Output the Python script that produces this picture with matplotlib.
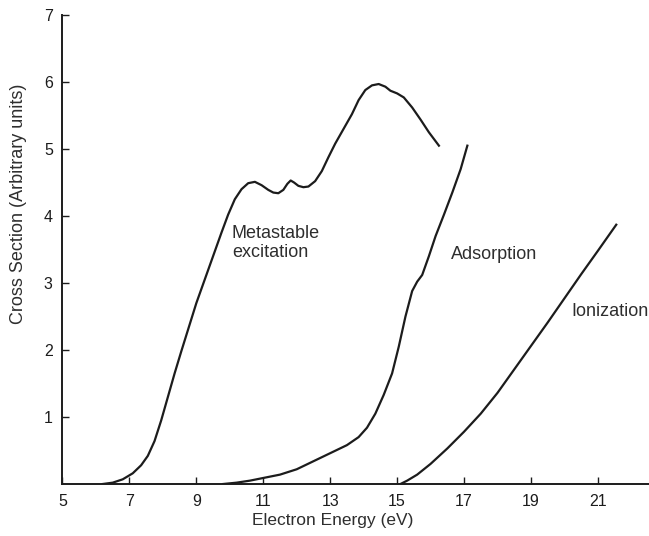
import matplotlib
matplotlib.use("Agg")
import matplotlib.pyplot as plt

plt.rcParams['font.family'] = ['Liberation Sans', 'DejaVu Sans']

# curves (eV, arbitrary units)
meta_x = [6.2, 6.5, 6.8, 7.1, 7.35, 7.55, 7.75, 7.95, 8.15, 8.35, 8.55, 8.75, 9.0,
          9.25, 9.5, 9.75, 9.95, 10.15, 10.35, 10.55, 10.75, 10.95, 11.15, 11.3,
          11.45, 11.6, 11.72, 11.82, 11.92, 12.05, 12.2, 12.35, 12.55, 12.75, 12.95,
          13.15, 13.4, 13.65, 13.85, 14.05, 14.25, 14.45, 14.65, 14.8, 15.0, 15.2,
          15.45, 15.7, 15.95, 16.25]
meta_y = [0.0, 0.02, 0.07, 0.16, 0.28, 0.42, 0.64, 0.95, 1.3, 1.65, 1.98, 2.3, 2.7,
          3.05, 3.4, 3.75, 4.02, 4.25, 4.4, 4.49, 4.51, 4.46, 4.39, 4.35,
          4.34, 4.39, 4.48, 4.53, 4.5, 4.45, 4.43, 4.44, 4.52, 4.67, 4.88,
          5.08, 5.3, 5.52, 5.73, 5.88, 5.95, 5.97, 5.93, 5.87, 5.83, 5.77,
          5.62, 5.44, 5.25, 5.05]

adsorb_x = [9.8, 10.2, 10.6, 11.0, 11.5, 12.0, 12.5, 13.0, 13.5, 13.85, 14.1, 14.35,
            14.6, 14.85, 15.05, 15.25, 15.45, 15.6, 15.75, 15.95, 16.15, 16.4, 16.65,
            16.9, 17.1]
adsorb_y = [0.0, 0.02, 0.05, 0.09, 0.14, 0.22, 0.34, 0.46, 0.58, 0.7, 0.84, 1.05,
            1.33, 1.65, 2.05, 2.5, 2.88, 3.02, 3.12, 3.4, 3.7, 4.02, 4.35,
            4.7, 5.05]

ion_x = [15.1, 15.3, 15.6, 16.0, 16.5, 17.0, 17.5, 18.0, 18.5, 19.0, 19.5, 20.0,
         20.5, 21.0, 21.55]
ion_y = [0.0, 0.05, 0.14, 0.3, 0.53, 0.78, 1.05, 1.36, 1.71, 2.06, 2.41, 2.77,
         3.13, 3.48, 3.87]

xticks = [5, 7, 9, 11, 13, 15, 17, 19, 21]
yticks = [1, 2, 3, 4, 5, 6, 7]

fig = plt.figure(figsize=(6.49, 5.36), dpi=100)
ax = fig.add_axes([0.0963, 0.097, 0.928, 0.875])

lc = '#1c1c1c'
tc = '#2e2e2e'
for xs, ys in [(meta_x, meta_y), (adsorb_x, adsorb_y), (ion_x, ion_y)]:
    ax.plot(xs, ys, color=lc, lw=1.6, solid_joinstyle='round')

ax.text(10.06, 3.86, 'Metastable\nexcitation', fontsize=13, color=tc,
        va='top', ha='left', linespacing=1.1)
ax.text(16.6, 3.42, 'Adsorption', fontsize=13, color=tc, va='center')
ax.text(20.22, 2.57, 'Ionization', fontsize=13, color=tc, va='center',
        clip_on=False)

ax.set_xlim(5, 23)
ax.set_ylim(0, 7)
ax.set_xticks(xticks)
ax.set_yticks(yticks)
ax.tick_params(direction='in', length=5, width=1, labelsize=11.5, colors=lc, pad=7)
ax.spines['top'].set_visible(False)
ax.spines['right'].set_visible(False)
for s in ['left', 'bottom']:
    ax.spines[s].set_linewidth(1.4)
    ax.spines[s].set_color(lc)

ax.set_xlabel('Electron Energy (eV)', fontsize=12.5, color=tc)
ax.xaxis.set_label_coords(0.449, -0.062)
ax.set_ylabel('Cross Section (Arbitrary units)', fontsize=13, color=tc)
ax.yaxis.set_label_coords(-0.059, 0.597)

fig.savefig('out.png', dpi=100)
